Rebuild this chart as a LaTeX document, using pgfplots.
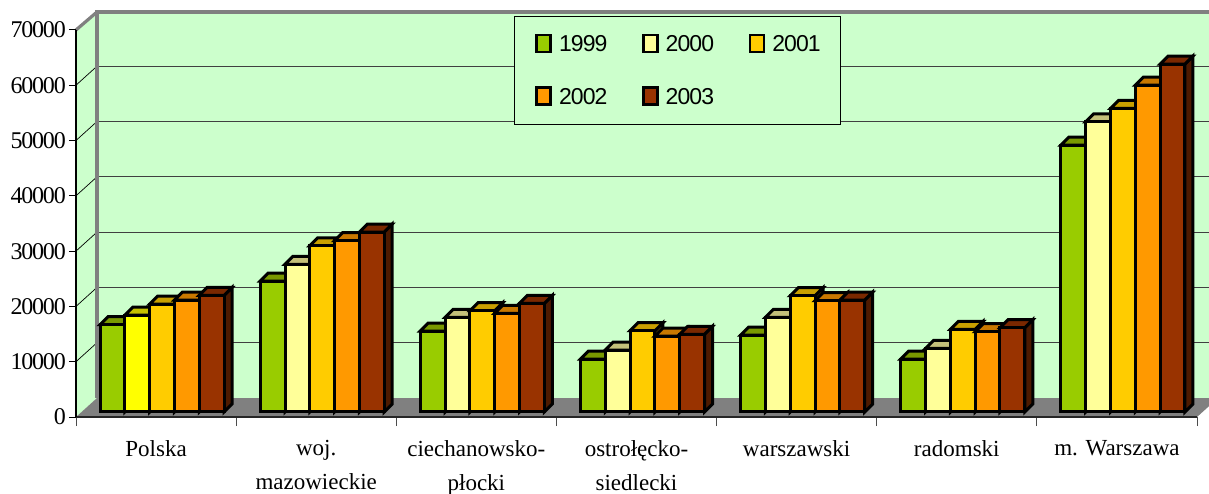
\documentclass[border=0pt]{standalone}
\usepackage{fontspec}
\usepackage{pgfplots}
\usepackage{pgfplotstable}
\pgfplotsset{compat=1.18}
\setmainfont{Liberation Serif}
\newfontfamily\tickf[LetterSpace=-5]{Liberation Serif}
\newfontfamily\legf[LetterSpace=-4]{Liberation Sans}
\definecolor{bg}{HTML}{CCFFCC}
\definecolor{wallg}{HTML}{808080}
\definecolor{cA}{HTML}{99CC00}\definecolor{tA}{HTML}{7A9900}\definecolor{sA}{HTML}{4D6600}
\definecolor{cB}{HTML}{FFFF99}\definecolor{tB}{HTML}{C4C07A}\definecolor{sB}{HTML}{808050}
\definecolor{cY}{HTML}{FFFF00}\definecolor{tY}{HTML}{C4C000}\definecolor{sY}{HTML}{808000}
\definecolor{cC}{HTML}{FFCC00}\definecolor{tC}{HTML}{C9A000}\definecolor{sC}{HTML}{806600}
\definecolor{cD}{HTML}{FF9900}\definecolor{tD}{HTML}{C97800}\definecolor{sD}{HTML}{804D00}
\definecolor{cE}{HTML}{993300}\definecolor{tE}{HTML}{7A2800}\definecolor{sE}{HTML}{4D1A00}
\pgfplotstableread{
x y
1.5 26710
2.5 17120
3.5 11210
4.5 17120
5.5 11520
6.5 52490
}\tabB
\pgfplotstableread{
x y
0.5 17540
}\tabY
\pgfplotstableread{
x y
0.5 15790
1.5 23690
2.5 14650
3.5 9580
4.5 13920
5.5 9580
6.5 48280
}\tabA
\pgfplotstableread{
x y
0.5 19530
1.5 30070
2.5 18320
3.5 14700
4.5 21030
5.5 14950
6.5 54920
}\tabC
\pgfplotstableread{
x y
0.5 20250
1.5 30980
2.5 17850
3.5 13740
4.5 20130
5.5 14520
6.5 59130
}\tabD
\pgfplotstableread{
x y
0.5 21100
1.5 32550
2.5 19660
3.5 14050
4.5 20250
5.5 15240
6.5 62930
}\tabE
\pgfdeclareplotmark{emptymark}{}
\newcommand{\barseries}[5]{%
  \addplot[forget plot, ybar, bar width=24.8pt, bar shift=#2pt+6pt, yshift=5pt,
    fill=#3, draw=black]
    table[x=x,y=y]{#1};
  \addplot[forget plot, only marks, scatter, mark=emptymark, mark size=0pt,
    point meta=y, point meta min=0, point meta max=70000,
    scatter/@pre marker code/.code={%
      \pgfmathsetmacro\hh{\pgfplotspointmetatransformed/1000*387}%
      \pgfmathsetmacro\xa{#2+6-12.4}%
      \pgfmathsetmacro\xb{#2+6-4.4}%
      \pgfmathsetmacro\xc{#2+6+12.4}%
      \pgfmathsetmacro\xd{#2+6+20.4}%
      \pgfmathsetmacro\yt{5}%
      \pgfmathsetmacro\yu{13}%
      \pgfmathsetmacro\yb{5-\hh}%
      \pgfmathsetmacro\yv{13-\hh}%
      \path[fill=#5,draw=black,line width=3pt,line join=miter] (\xc pt,\yt pt)--(\xd pt,\yu pt)--(\xd pt,\yv pt)--(\xc pt,\yb pt)--cycle;
      \path[fill=#4,draw=black,line width=3pt,line join=miter] (\xa pt,\yt pt)--(\xb pt,\yu pt)--(\xd pt,\yu pt)--(\xc pt,\yt pt)--cycle;
      \path[fill=#3,draw=black,line width=3pt,line join=miter] (\xa pt,\yb pt) rectangle (\xc pt,\yt pt);
      \scope},
    scatter/@post marker code/.code={\endscope}]
    table[x=x,y=y]{#1};
}
\pgfplotsset{
  cube legend/.style={legend image code/.code={%
    \path (-4pt,0pt);
    \path[draw=black,line width=2.6pt,fill=#1] (0pt,-8pt) rectangle (14pt,9pt);}},
}
\begin{document}
\begin{tikzpicture}[x=1pt,y=1pt]
\path[use as bounding box, clip] (0,0) rectangle (1209,493);
\fill[bg] (76,76)--(97,95)--(97,482)--(76,463)--cycle;
\fill[bg] (97,95) rectangle (1218,482);
\fill[wallg] (76,76)--(97,95)--(1218,95)--(1197,76)--cycle;
\foreach \k in {1,...,6}{
  \draw[black!75,line width=1pt] (97,95+\k*55.3)--(1218,95+\k*55.3);
  \draw[black,line width=0.7pt] (76,76+\k*55.3)--(97,95+\k*55.3);
}
\draw[wallg,line width=3.2pt,line join=miter] (97,95)--(97,481)--(1218,481);
\draw[wallg,line width=3.2pt] (76,463)--(97,481);
\begin{axis}[
  at={(76pt,76pt)}, anchor=origin,
  scale only axis, width=1121pt, height=387pt,
  xmin=0, xmax=7, ymin=0, ymax=70000,
  clip=false,
  axis x line*=bottom, axis y line*=left,
  x axis line style={-,line width=1.6pt,draw=black!85},
  y axis line style={-,line width=1.6pt,draw=black},
  xtick={0.5,1.5,2.5,3.5,4.5,5.5,6.5},
  xticklabels={Polska,woj.\\mazowieckie,ciechanowsko-\\płocki,ostrołęcko-\\siedlecki,warszawski,radomski,m. Warszawa},
  minor xtick={0,1,...,7},
  major x tick style={draw=none},
  minor x tick style={draw=black!70,line width=1pt},
  minor tick length=9pt,
  ytick={0,10000,...,70000},
  ytick style={draw=black,line width=1pt},
  major tick length=7pt,
  tick align=outside,
  tick pos=left,
  x tick label style={font=\fontsize{23}{34.5}\selectfont, align=center, anchor=north, yshift=-16pt, inner sep=0pt},
  y tick label style={font=\fontsize{24}{24}\selectfont\tickf, inner sep=0pt, xshift=-3pt},
  /pgf/number format/assume math mode=true,
  /pgf/number format/1000 sep={},
  scaled y ticks=false,
  legend columns=3,
  legend style={at={(0.3907,1.0362)}, anchor=north west, draw=black, line width=0.8pt, fill=bg,
    font=\fontsize{23}{23}\selectfont\legf,
    inner xsep=18pt, inner ysep=17pt,
    /tikz/every odd column/.append style={column sep=5pt},
    /tikz/every even column/.append style={column sep=29.5pt},
    row sep=31pt, cells={anchor=west}},
  legend cell align=left,
]
\barseries{\tabA}{-49.6}{cA}{tA}{sA}
\barseries{\tabY}{-24.8}{cY}{tY}{sY}
\barseries{\tabB}{-24.8}{cB}{tB}{sB}
\barseries{\tabC}{0}{cC}{tC}{sC}
\barseries{\tabD}{24.8}{cD}{tD}{sD}
\barseries{\tabE}{49.6}{cE}{tE}{sE}
\addlegendimage{cube legend=cA}\addlegendentry{1999}
\addlegendimage{cube legend=cB}\addlegendentry{2000}
\addlegendimage{cube legend=cC}\addlegendentry{2001}
\addlegendimage{cube legend=cD}\addlegendentry{2002}
\addlegendimage{cube legend=cE}\addlegendentry{2003}
\end{axis}
\end{tikzpicture}
\end{document}
